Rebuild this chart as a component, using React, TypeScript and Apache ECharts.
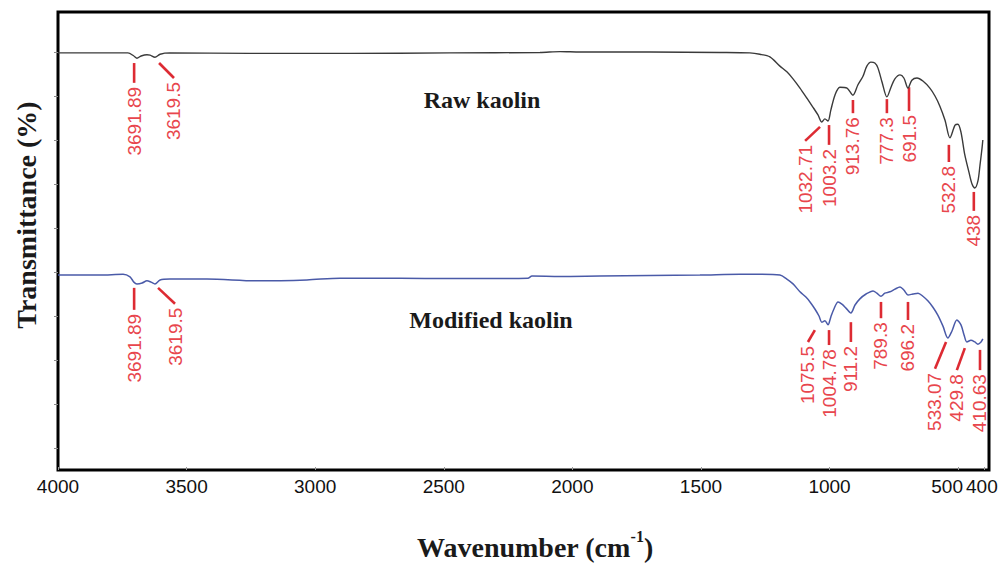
import React, { useEffect, useRef } from "react";
import * as echarts from "echarts";

// x axis (wavenumber, cm-1) tick labels
const wavenumberTicks = [4000, 3500, 3000, 2500, 2000, 1500, 1000, 500, 400];
// y axis minor tick positions (no labels, arbitrary transmittance units)
const transmittanceTicks = [5, 15, 25, 35, 45, 55, 65, 75, 85, 95];

// Raw kaolin spectrum [wavenumber, transmittance]
const rawKaolin: [number, number][] = [
  [4000, 94.8], [3798, 94.8], [3728, 94.8], [3705, 94.1], [3693, 93.6], [3677, 94.1],
  [3654, 94.4], [3642, 94.3], [3623, 93.8], [3603, 94.5], [3565, 94.8], [3254, 94.7],
  [2865, 94.7], [2476, 94.8], [2126, 94.9], [2048, 95.1], [1970, 95.0], [1698, 95.0],
  [1426, 94.9], [1310, 94.8], [1271, 94.5], [1232, 93.9], [1193, 91.8], [1166, 90.5],
  [1142, 88.9], [1115, 86.8], [1088, 84.5], [1065, 82.5], [1045, 80.7], [1030, 79.1],
  [1018, 79.8], [1006, 79.3], [995, 81.8], [979, 85.2], [960, 87.0], [932, 86.8],
  [909, 85.2], [890, 87.5], [870, 89.5], [855, 91.8], [839, 92.7], [824, 92.5],
  [812, 91.4], [796, 88.2], [777, 84.8], [761, 87.0], [746, 88.9], [726, 89.8],
  [711, 89.1], [695, 86.8], [680, 88.6], [660, 89.1], [637, 88.4], [610, 86.8],
  [590, 85.0], [571, 82.7], [551, 79.5], [532, 75.5], [512, 78.4], [501, 78.6],
  [489, 76.8], [474, 71.6], [458, 67.7], [446, 65.0], [435, 64.1], [423, 65.7],
  [415, 69.3], [407, 73.2], [404, 75.0],
];

// Modified kaolin spectrum [wavenumber, transmittance]
const modifiedKaolin: [number, number][] = [
  [4000, 44.3], [3837, 44.3], [3747, 44.5], [3720, 43.9], [3705, 42.7], [3693, 42.3],
  [3673, 42.5], [3654, 43.0], [3638, 42.7], [3623, 42.3], [3603, 43.2], [3565, 43.4],
  [3421, 43.4], [3226, 43.0], [3032, 43.2], [2904, 43.6], [2670, 43.6], [2476, 43.5],
  [2173, 43.6], [2157, 44.1], [2048, 44.0], [1893, 44.1], [1698, 44.2], [1504, 44.3],
  [1348, 44.5], [1271, 44.5], [1193, 44.3], [1166, 43.4], [1142, 42.3], [1115, 40.5],
  [1092, 39.3], [1076, 38.2], [1057, 36.6], [1041, 35.0], [1030, 33.6], [1018, 33.9],
  [1006, 33.0], [995, 34.8], [983, 36.6], [967, 38.2], [952, 37.7], [936, 36.8],
  [917, 35.7], [901, 37.5], [882, 38.9], [858, 40.0], [831, 40.7], [816, 40.2],
  [800, 39.5], [785, 40.2], [765, 40.5], [746, 41.1], [726, 41.6], [711, 40.9],
  [695, 39.8], [676, 40.0], [656, 40.2], [637, 39.5], [617, 38.4], [598, 37.0],
  [579, 35.2], [559, 32.7], [540, 30.0], [524, 31.6], [505, 34.1], [489, 33.0],
  [477, 30.7], [466, 29.1], [450, 29.5], [435, 29.1], [423, 28.6], [411, 29.1],
  [404, 29.8],
];

// Peak annotations: [label, from wavenumber, from T, to wavenumber, to T]
const rawPeaks: [string, number, number, number, number][] = [
  ["3691.89", 3704, 92.5, 3704, 88.0],
  ["3619.5", 3607, 92.5, 3549, 89.1],
  ["1032.71", 1037, 78.0, 1095, 74.8],
  ["1003.2", 1002, 78.4, 1002, 73.9],
  ["913.76", 909, 84.1, 909, 81.1],
  ["777.3", 777, 84.3, 777, 81.1],
  ["691.5", 691, 87.0, 691, 81.6],
  ["532.8", 536, 73.9, 536, 70.0],
  ["438", 439, 63.2, 439, 58.9],
];

const modifiedPeaks: [string, number, number, number, number][] = [
  ["3691.89", 3704, 41.4, 3704, 36.4],
  ["3619.5", 3611, 41.4, 3545, 37.8],
  ["1075.5", 1057, 31.8, 1084, 29.1],
  ["1004.78", 1002, 31.8, 1002, 28.4],
  ["911.2", 917, 33.6, 917, 29.1],
  ["789.3", 800, 38.2, 800, 34.5],
  ["696.2", 695, 38.2, 695, 34.1],
  ["533.07", 547, 29.1, 590, 23.0],
  ["429.8", 474, 27.7, 505, 22.7],
  ["410.63", 415, 27.3, 415, 22.7],
];

const RED_LINE = "#dd2b33";
const RED_TEXT = "#e8464d";

function peakSeries(peaks: [string, number, number, number, number][]) {
  return {
    type: "custom",
    silent: true,
    clip: false,
    data: peaks.map((p) => [p[1], p[2], p[3], p[4]]),
    encode: { x: [0, 2], y: [1, 3] },
    renderItem: (params: any, api: any) => {
      const p1 = api.coord([api.value(0), api.value(1)]);
      const p2 = api.coord([api.value(2), api.value(3)]);
      const label = peaks[params.dataIndex][0];
      return {
        type: "group",
        children: [
          {
            type: "line",
            shape: { x1: p1[0], y1: p1[1], x2: p2[0], y2: p2[1] },
            style: { stroke: RED_LINE, lineWidth: 2.6 },
          },
          {
            type: "text",
            x: p2[0],
            y: p2[1] + 4,
            rotation: Math.PI / 2,
            style: {
              text: label,
              fill: RED_TEXT,
              fontSize: 19,
              fontFamily: "Liberation Sans",
              align: "right",
              verticalAlign: "middle",
            },
          },
        ],
      };
    },
  };
}

export default function App() {
  const ref = useRef<HTMLDivElement>(null);

  useEffect(() => {
    if (!ref.current) return;
    const chart = echarts.init(ref.current, null, { renderer: "svg" });
    const tickFont = { fontSize: 19, fontFamily: "Liberation Sans", color: "#111111" };
    chart.setOption({
      animation: false,
      backgroundColor: "#ffffff",
      grid: {
        left: 58,
        right: 12,
        top: 12,
        bottom: 93,
        show: true,
        borderColor: "#000000",
        borderWidth: 3,
        outerBoundsMode: "none",
      },
      xAxis: {
        type: "value",
        inverse: true,
        min: 380,
        max: 4000,
        axisLine: { show: false },
        splitLine: { show: false },
        axisTick: {
          show: true,
          inside: true,
          length: 3,
          customValues: wavenumberTicks,
          lineStyle: { color: "#999999", width: 1 },
        },
        axisLabel: {
          customValues: wavenumberTicks,
          margin: 7,
          ...tickFont,
          formatter: (v: number) =>
            v === 500 ? "{left|500}" : v === 400 ? "{right|400}" : String(v),
          rich: {
            left: { padding: [0, 22, 0, 0], ...tickFont },
            right: { padding: [0, 4, 0, 0], ...tickFont },
          },
        },
      },
      yAxis: {
        type: "value",
        min: 0,
        max: 104.1,
        axisLine: { show: false },
        splitLine: { show: false },
        axisLabel: { show: false },
        axisTick: {
          show: true,
          length: 4,
          customValues: transmittanceTicks,
          lineStyle: { color: "#888888", width: 1 },
        },
      },
      series: [
        {
          type: "line",
          name: "Raw kaolin",
          data: rawKaolin,
          showSymbol: false,
          smooth: 0.3,
          lineStyle: { color: "#3a3a3a", width: 1.4 },
        },
        {
          type: "line",
          name: "Modified kaolin",
          data: modifiedKaolin,
          showSymbol: false,
          smooth: 0.3,
          lineStyle: { color: "#4a5aa8", width: 1.5 },
        },
        peakSeries(rawPeaks),
        peakSeries(modifiedPeaks),
      ],
      graphic: [
        {
          type: "text",
          x: 482,
          y: 100,
          style: {
            text: "Raw kaolin",
            fill: "#1a1a1a",
            font: "bold 24px 'Liberation Serif'",
            align: "center",
            verticalAlign: "middle",
          },
        },
        {
          type: "text",
          x: 491,
          y: 320,
          style: {
            text: "Modified kaolin",
            fill: "#1a1a1a",
            font: "bold 24px 'Liberation Serif'",
            align: "center",
            verticalAlign: "middle",
          },
        },
        {
          type: "text",
          x: 26,
          y: 215,
          rotation: Math.PI / 2,
          style: {
            text: "Transmittance (%)",
            fill: "#1a1a1a",
            font: "bold 28px 'Liberation Serif'",
            align: "center",
            verticalAlign: "middle",
          },
        },
        {
          type: "text",
          x: 535,
          y: 547,
          style: {
            text: "Wavenumber (cm{sup|-1})",
            fill: "#1a1a1a",
            font: "bold 28px 'Liberation Serif'",
            align: "center",
            verticalAlign: "middle",
            rich: {
              sup: {
                font: "bold 16px 'Liberation Serif'",
                fill: "#1a1a1a",
                verticalAlign: "top",
                padding: [0, 0, 22, 0],
              },
            },
          },
        },
      ],
    });
    return () => chart.dispose();
  }, []);

  return (
    <div
      ref={ref}
      style={{ position: "absolute", left: 0, top: 0, width: 1001, height: 563 }}
    />
  );
}
